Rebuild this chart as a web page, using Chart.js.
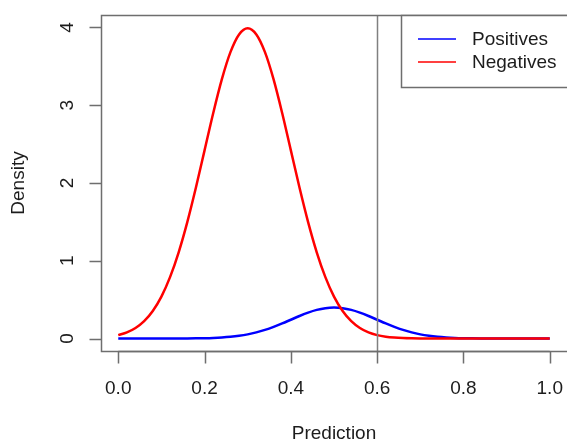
<!DOCTYPE html>
<html>
<head>
<meta charset="utf-8">
<script src="https://cdn.jsdelivr.net/npm/chart.js@4.4.0/dist/chart.umd.min.js"></script>
<style>
  html, body { margin: 0; padding: 0; background: #fff; }
</style>
</head>
<body>
<canvas id="grafico" width="567" height="441"></canvas>
<script>
// valores de x (predicao) e as duas densidades
let predicao = [0.00, 0.02, 0.04, 0.06, 0.08, 0.10, 0.12, 0.14, 0.16, 0.18,
                0.20, 0.22, 0.24, 0.26, 0.28, 0.30, 0.32, 0.34, 0.36, 0.38,
                0.40, 0.42, 0.44, 0.46, 0.48, 0.50, 0.52, 0.54, 0.56, 0.58,
                0.60, 0.62, 0.64, 0.66, 0.68, 0.70, 0.72, 0.74, 0.76, 0.78,
                0.80, 0.82, 0.84, 0.86, 0.88, 0.90, 0.92, 0.94, 0.96, 0.98, 1.00];

let positivos = [0, 0, 0, 0, 0.0001, 0.0001, 0.0003, 0.0006, 0.0012, 0.0024,
                 0.0044, 0.0079, 0.0136, 0.0224, 0.0355, 0.0540, 0.0790, 0.1109, 0.1497, 0.1942,
                 0.2420, 0.2897, 0.3332, 0.3683, 0.3910, 0.3989, 0.3910, 0.3683, 0.3332, 0.2897,
                 0.2420, 0.1942, 0.1497, 0.1109, 0.0790, 0.0540, 0.0355, 0.0224, 0.0136, 0.0079,
                 0.0044, 0.0024, 0.0012, 0.0006, 0.0003, 0.0001, 0.0001, 0, 0, 0, 0];

let negativos = [0.0443, 0.0792, 0.1358, 0.2239, 0.3547, 0.5399, 0.7895, 1.1092, 1.4973, 1.9419,
                 2.4197, 2.8969, 3.3322, 3.6827, 3.9104, 3.9894, 3.9104, 3.6827, 3.3322, 2.8969,
                 2.4197, 1.9419, 1.4973, 1.1092, 0.7895, 0.5399, 0.3547, 0.2239, 0.1358, 0.0792,
                 0.0443, 0.0238, 0.0123, 0.0061, 0.0029, 0.0013, 0.0006, 0.0002, 0.0001, 0,
                 0, 0, 0, 0, 0, 0, 0, 0, 0, 0, 0];

let ticksX = [0, 0.2, 0.4, 0.6, 0.8, 1.0];
let rotulosX = ["0.0", "0.2", "0.4", "0.6", "0.8", "1.0"];
let ticksY = [0, 1, 2, 3, 4];
let rotulosY = ["0", "1", "2", "3", "4"];
let corte = 0.6;
let nomesSeries = ["Positives", "Negatives"];

function pares(ys){
    let lista = [];
    for(let i = 0; i < predicao.length; i++){
        lista.push({x: predicao[i], y: ys[i]});
    }
    return lista;
}

const fonte = '19px "Liberation Sans", Arial, sans-serif';
const corTexto = '#1c1c1c';
const corMoldura = '#6e6e6e';

// eixos, moldura, linha de corte e legenda no estilo do R
const estiloR = {
    id: 'estiloR',
    afterDatasetsDraw(chart){
        let ctx = chart.ctx;
        let area = chart.chartArea;
        let sx = chart.scales.x;
        let sy = chart.scales.y;

        ctx.save();

        // linha de corte
        let xc = Math.round(sx.getPixelForValue(corte)) + 0.5;
        ctx.strokeStyle = '#808080';
        ctx.lineWidth = 1.5;
        ctx.beginPath();
        ctx.moveTo(xc, area.top);
        ctx.lineTo(xc, area.bottom);
        ctx.stroke();

        // moldura
        ctx.strokeStyle = corMoldura;
        ctx.lineWidth = 1.5;
        ctx.strokeRect(area.left + 0.5, area.top + 0.5, area.right - area.left + 2, area.bottom - area.top);

        // eixo x
        let yEixo = area.bottom + 0.5;
        ctx.beginPath();
        ctx.moveTo(sx.getPixelForValue(ticksX[0]), yEixo);
        ctx.lineTo(sx.getPixelForValue(ticksX[ticksX.length - 1]), yEixo);
        for(let i = 0; i < ticksX.length; i++){
            let px = Math.round(sx.getPixelForValue(ticksX[i])) + 0.5;
            ctx.moveTo(px, yEixo);
            ctx.lineTo(px, yEixo + 12);
        }
        ctx.stroke();

        // eixo y
        let xEixo = area.left + 0.5;
        ctx.beginPath();
        for(let i = 0; i < ticksY.length; i++){
            let py = Math.round(sy.getPixelForValue(ticksY[i])) + 0.5;
            ctx.moveTo(xEixo, py);
            ctx.lineTo(xEixo - 12, py);
        }
        ctx.stroke();

        ctx.fillStyle = corTexto;
        ctx.font = fonte;
        ctx.textAlign = 'center';
        ctx.textBaseline = 'middle';
        for(let i = 0; i < ticksX.length; i++){
            ctx.fillText(rotulosX[i], sx.getPixelForValue(ticksX[i]), 389);
        }
        ctx.fillText('Prediction', (area.left + area.right) / 2, 434);

        for(let i = 0; i < ticksY.length; i++){
            ctx.save();
            ctx.translate(68, sy.getPixelForValue(ticksY[i]));
            ctx.rotate(-Math.PI / 2);
            ctx.fillText(rotulosY[i], 0, 0);
            ctx.restore();
        }
        ctx.save();
        ctx.translate(19, (area.top + area.bottom) / 2);
        ctx.rotate(-Math.PI / 2);
        ctx.fillText('Density', 0, 0);
        ctx.restore();

        // legenda
        let lx = 401.5, ly = area.top + 0.5;
        ctx.fillStyle = '#fff';
        ctx.fillRect(lx, ly, area.right - lx + 2, 72);
        ctx.strokeStyle = corMoldura;
        ctx.strokeRect(lx, ly, area.right - lx + 2, 72);
        let cores = [chart.data.datasets[0].borderColor, chart.data.datasets[1].borderColor];
        for(let i = 0; i < nomesSeries.length; i++){
            let yl = 39 + i * 23;
            ctx.strokeStyle = cores[i];
            ctx.lineWidth = 1.5;
            ctx.beginPath();
            ctx.moveTo(418, yl);
            ctx.lineTo(456, yl);
            ctx.stroke();
            ctx.fillStyle = corTexto;
            ctx.textAlign = 'left';
            ctx.fillText(nomesSeries[i], 472, yl + 1);
        }

        ctx.restore();
    }
};

let ctx = document.getElementById('grafico').getContext('2d');

let meuGrafico = new Chart(ctx, {
    type: 'line',
    data: {
        datasets: [{
            label: nomesSeries[0],
            data: pares(positivos),
            borderColor: '#0000ff',
            borderWidth: 2.5,
            pointRadius: 0,
            cubicInterpolationMode: 'monotone',
            order: 1
        }, {
            label: nomesSeries[1],
            data: pares(negativos),
            borderColor: '#ff0000',
            borderWidth: 2.5,
            pointRadius: 0,
            cubicInterpolationMode: 'monotone',
            order: 0
        }]
    },
    options: {
        responsive: false,
        animation: false,
        devicePixelRatio: 1,
        layout: { padding: { left: 101, top: 15, right: 0, bottom: 90 } },
        plugins: { legend: { display: false }, tooltip: { enabled: false } },
        scales: {
            x: { type: 'linear', min: -0.04, max: 1.04, display: false },
            y: { type: 'linear', min: -0.16, max: 4.16, display: false }
        }
    },
    plugins: [estiloR]
});
</script>
</body>
</html>
